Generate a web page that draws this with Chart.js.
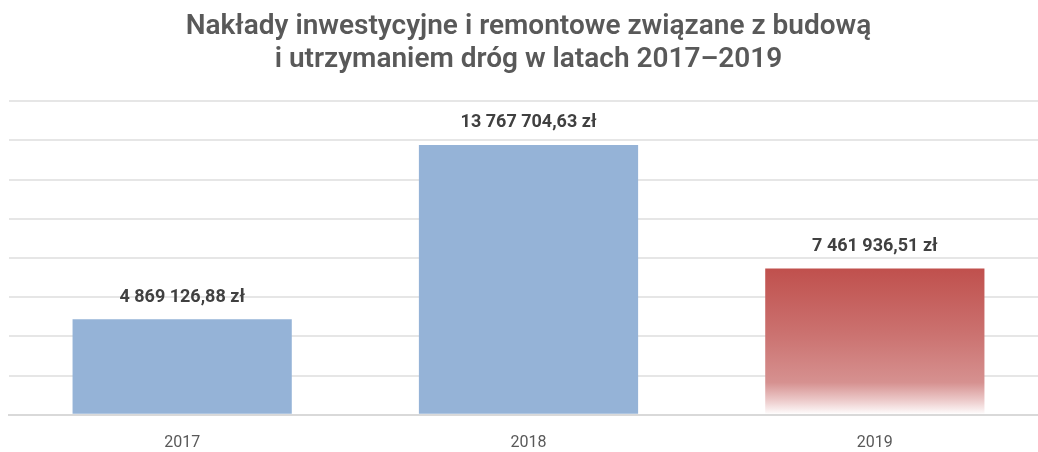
<!DOCTYPE html>
<html>
<head>
<meta charset="utf-8">
<script src="https://cdn.jsdelivr.net/npm/chart.js@4"></script>
<style>
    html, body { margin: 0; padding: 0; background: #fff; overflow: hidden; }
    #wrap { width: 1048px; height: 452px; position: relative; }
</style>
</head>
<body>
<div id="wrap"><canvas id="chart" width="1048" height="452"></canvas></div>
<script>
const years = ['2017', '2018', '2019'];
const amounts = [4869126.88, 13767704.63, 7461936.51];
const amountLabels = ['4 869 126,88 zł', '13 767 704,63 zł', '7 461 936,51 zł'];
const titleLines = ['Nakłady inwestycyjne i remontowe związane z budową', 'i utrzymaniem dróg w latach 2017–2019'];

const fontName = 'Roboto, "Open Sans", sans-serif';

function barColor(ctx) {
    if (ctx.dataIndex !== 2) return '#95b3d7';
    const chart = ctx.chart;
    if (!chart.chartArea || !chart.scales.y) return '#c0504d';
    const y = chart.scales.y;
    const top = y.getPixelForValue(amounts[ctx.dataIndex]);
    const bottom = y.getPixelForValue(0);
    const g = chart.ctx.createLinearGradient(0, top, 0, bottom);
    g.addColorStop(0, '#c0504d');
    g.addColorStop(0.45, '#cb7270');
    g.addColorStop(0.78, '#d69190');
    g.addColorStop(0.9, '#ecc9c9');
    g.addColorStop(1, '#ffffff');
    return g;
}

// value labels above bars
const valueLabels = {
    id: 'valueLabels',
    afterDatasetsDraw(chart) {
        const c = chart.ctx;
        const meta = chart.getDatasetMeta(0);
        c.save();
        c.font = 'bold 18px ' + fontName;
        c.fillStyle = '#404040';
        c.textAlign = 'center';
        c.textBaseline = 'middle';
        meta.data.forEach((bar, i) => {
            c.fillText(amountLabels[i], bar.x, bar.y - 22);
        });
        c.restore();
    }
};

new Chart(document.getElementById('chart'), {
    type: 'bar',
    data: {
        labels: years,
        datasets: [{
            data: amounts,
            backgroundColor: barColor,
            barPercentage: 0.633,
            categoryPercentage: 1
        }]
    },
    options: {
        responsive: false,
        animation: false,
        devicePixelRatio: 1,
        layout: { padding: { left: 9, right: 0, top: 0, bottom: -20 } },
        plugins: {
            legend: { display: false },
            tooltip: { enabled: false },
            title: {
                display: true,
                text: titleLines,
                color: '#595959',
                font: { family: fontName, size: 28, weight: '600', lineHeight: 1.2 },
                padding: { top: 10, bottom: 24 }
            }
        },
        scales: {
            x: {
                grid: { display: false, drawTicks: false },
                border: { display: true, color: '#d9d9d9', width: 2 },
                ticks: { color: '#595959', font: { family: fontName, size: 16 }, padding: 19 }
            },
            y: {
                min: 0,
                max: 16000000,
                ticks: { display: false, stepSize: 2000000 },
                grid: { color: '#e6e6e6', lineWidth: 2, drawTicks: false },
                border: { display: false }
            }
        }
    },
    plugins: [valueLabels]
});
</script>
</body>
</html>
